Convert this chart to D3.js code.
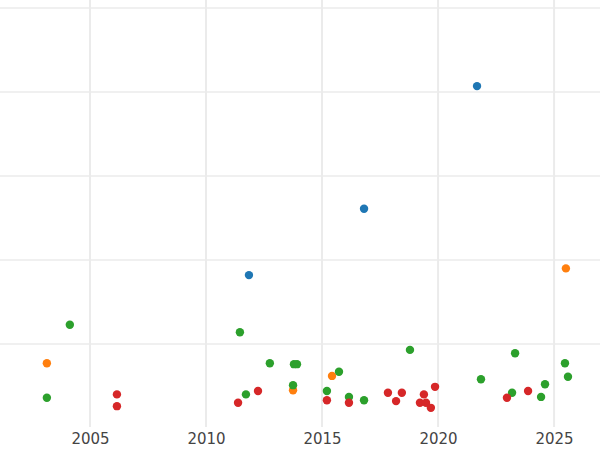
<!DOCTYPE html>
<html>
<head>
<meta charset="utf-8">
<script src="https://cdn.jsdelivr.net/npm/d3@7"></script>
<style>body{margin:0;background:#fff}</style>
</head>
<body>
<div id="chart"></div>
<script>
var colors = ['#1f77b4', '#ff7f0e', '#2ca02c', '#d62728']
var blueYears = [2021.68, 2016.81, 2011.85]
var blueVals = [4.07, 2.61, 1.82]
var orangeYears = [2003.14, 2013.75, 2015.43, 2025.51]
var orangeVals = [0.77, 0.45, 0.62, 1.90]
var greenYears = [2004.13, 2003.14, 2011.46, 2011.72, 2012.75, 2013.75, 2013.79, 2013.92, 2015.21, 2015.73, 2016.16, 2016.81, 2018.79, 2021.85, 2023.19, 2023.32, 2024.44, 2024.61, 2025.47, 2025.6]
var greenVals = [1.23, 0.36, 1.14, 0.40, 0.77, 0.51, 0.76, 0.76, 0.44, 0.67, 0.37, 0.33, 0.93, 0.58, 0.42, 0.89, 0.37, 0.52, 0.77, 0.61]
var redYears = [2006.16, 2006.16, 2011.38, 2012.24, 2015.21, 2016.16, 2017.84, 2018.19, 2018.44, 2019.22, 2019.39, 2019.48, 2019.69, 2019.87, 2022.97, 2023.88]
var redVals = [0.40, 0.26, 0.30, 0.44, 0.33, 0.30, 0.42, 0.32, 0.42, 0.30, 0.40, 0.30, 0.24, 0.49, 0.36, 0.44]
var xTicks = [2005, 2010, 2015, 2020, 2025]
var yGrid = [1, 2, 3, 4, 5]

var width = 600, height = 450
var svg = d3.select('#chart').append('svg').attr('width', width).attr('height', height)
var x = d3.scaleLinear().domain([2001.12, 2026.98]).range([0, 600])
var y = d3.scaleLinear().domain([0, 5]).range([428, 8])

// grid
svg.selectAll('.hg').data(yGrid).enter().append('line')
    .attr('x1', 0).attr('x2', width)
    .attr('y1', function(d) { return y(d) }).attr('y2', function(d) { return y(d) })
    .style('stroke', '#ebebeb').style('stroke-width', 1.5)
svg.selectAll('.vg').data(xTicks).enter().append('line')
    .attr('x1', function(d) { return x(d) }).attr('x2', function(d) { return x(d) })
    .attr('y1', 0).attr('y2', 427)
    .style('stroke', '#ebebeb').style('stroke-width', 2)

var xAxis = svg.append('g').attr('transform', 'translate(0,427)')
    .call(d3.axisBottom(x).tickValues(xTicks).tickFormat(d3.format('d')).tickSize(0).tickPadding(6))
xAxis.select('.domain').remove()
xAxis.selectAll('text').style('font-family', 'DejaVu Sans').style('font-size', '15px').style('fill', '#444')

var series = [[blueYears, blueVals], [orangeYears, orangeVals], [greenYears, greenVals], [redYears, redVals]]
series.forEach(function(s, i) {
    var pts = s[0].map(function(yr, j) { return [yr, s[1][j]] })
    svg.append('g').selectAll('circle').data(pts).enter().append('circle')
        .attr('cx', function(d) { return x(d[0]) })
        .attr('cy', function(d) { return y(d[1]) })
        .attr('r', 4.2)
        .style('fill', colors[i])
})
</script>
</body>
</html>
